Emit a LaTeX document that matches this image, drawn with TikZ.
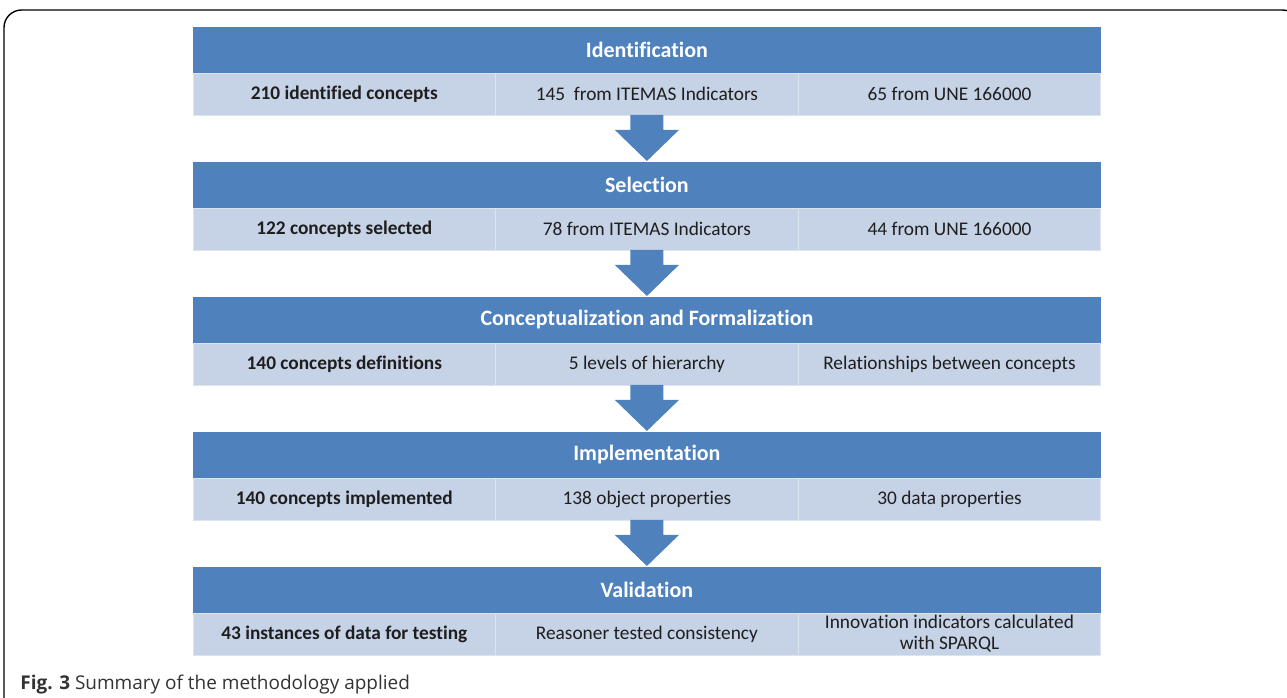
\documentclass[tikz,border=0pt]{standalone}
\usepackage{fontspec}
\setmainfont{Carlito}[Ligatures=NoCommon]
\newfontfamily\capfont{Open Sans}
\usetikzlibrary{positioning, calc}
\definecolor{hdblue}{HTML}{4F81BD}
\definecolor{rowblue}{HTML}{C6D2E6}
\definecolor{rowedge}{HTML}{DCE4F0}
\definecolor{txtdark}{HTML}{1E1E1E}
\definecolor{capgray}{HTML}{333333}

\begin{document}
\begin{tikzpicture}[
  x=0.02cm, y=-0.02cm,
  header/.style={rectangle, fill=hdblue, minimum width=18.16cm, minimum height=0.92cm,
    inner sep=0pt, outer sep=0pt, anchor=north west,
    font=\fontsize{12.5}{14}\selectfont\bfseries, text=white},
  cell/.style={rectangle, fill=rowblue, draw=rowedge, line width=0.5pt,
    minimum width=6.0533cm, minimum height=0.84cm, inner sep=0pt, outer sep=0pt,
    font=\fontsize{11}{12.5}\selectfont, text=txtdark, align=center},
  cellb/.style={cell, font=\fontsize{11}{12.5}\selectfont\bfseries},
  blockarrow/.style={fill=hdblue},
]

\clip (0,0) rectangle (1287,697);
\useasboundingbox (0,0) rectangle (1287,697);

% Frame
\draw[line width=0.8pt, rounded corners=10pt] (4,730) -- (4,10) -- (1300,10) -- (1300,730);

% ============================================================
% Stages
% ============================================================

% Identification
\node[header] (h1) at (193,27) {Identification};
\node[cellb, anchor=north west] (c11) at (h1.south west) {210 identified concepts};
\node[cell, right=0pt of c11] (c12) {145~ from ITEMAS Indicators};
\node[cell, right=0pt of c12] (c13) {65 from UNE 166000};

% Selection
\node[header] (h2) at (193,162) {Selection};
\node[cellb, anchor=north west] (c21) at (h2.south west) {122 concepts selected};
\node[cell, right=0pt of c21] (c22) {78 from ITEMAS Indicators};
\node[cell, right=0pt of c22] (c23) {44 from UNE 166000};

% Conceptualization and Formalization
\node[header] (h3) at (193,297) {Conceptualization and Formalization};
\node[cellb, anchor=north west] (c31) at (h3.south west) {140 concepts definitions};
\node[cell, right=0pt of c31] (c32) {5 levels of hierarchy};
\node[cell, right=0pt of c32] (c33) {Relationships between concepts};

% Implementation
\node[header] (h4) at (193,432) {Implementation};
\node[cellb, anchor=north west] (c41) at (h4.south west) {140 concepts implemented};
\node[cell, right=0pt of c41] (c42) {138 object properties};
\node[cell, right=0pt of c42] (c43) {30 data properties};

% Validation
\node[header] (h5) at (193,567) {Validation};
\node[cellb, anchor=north west] (c51) at (h5.south west) {43 instances of data for testing};
\node[cell, right=0pt of c51] (c52) {Reasoner tested consistency};
\node[cell, right=0pt of c52] (c53) {Innovation indicators calculated\\[-0.6pt]with SPARQL};

% ============================================================
% Block arrows between stages
% ============================================================
\foreach \a/\b in {c12/h2, c22/h3, c32/h4, c42/h5}{
  \fill[blockarrow] ($(\a.south)+(-16.5,0)$) -- ($(\a.south)+(16.5,0)$)
    -- ($(\a.south)+(16.5,15)$) -- ($(\a.south)+(32,15)$)
    -- ($(\b.north)+(0,-1)$)
    -- ($(\a.south)+(-32,15)$) -- ($(\a.south)+(-16.5,15)$) -- cycle;
}

% Caption
\node[anchor=base west, font=\capfont\fontsize{10.8}{12}\selectfont, text=capgray, inner sep=0pt]
  (cap) at (20,689) {\textbf{Fig. 3} Summary of the methodology applied};

\end{tikzpicture}
\end{document}
